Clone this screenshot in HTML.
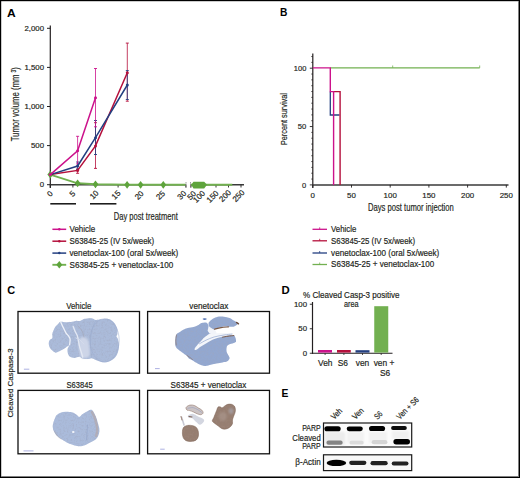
<!DOCTYPE html>
<html><head><meta charset="utf-8"><style>
html,body{margin:0;padding:0;background:#fff;overflow:hidden;}
svg{display:block;font-family:"Liberation Sans", sans-serif;}
</style></head><body>
<svg width="520" height="478" viewBox="0 0 520 478">
<rect width="520" height="478" fill="#fff"/>
<text x="7.1" y="16.7" font-size="11.2" text-anchor="start" fill="#000" font-weight="bold" textLength="8.7" lengthAdjust="spacingAndGlyphs">A</text>
<line x1="50.3" y1="25.4" x2="50.3" y2="188" stroke="#231f20" stroke-width="1.2"/>
<line x1="47" y1="184.70" x2="50.3" y2="184.70" stroke="#231f20" stroke-width="1"/>
<text x="44" y="187.45" font-size="7.8" text-anchor="end" fill="#231f20" stroke="#231f20" stroke-width="0.18">0</text>
<line x1="47" y1="145.60" x2="50.3" y2="145.60" stroke="#231f20" stroke-width="1"/>
<text x="44" y="148.35" font-size="7.8" text-anchor="end" fill="#231f20" stroke="#231f20" stroke-width="0.18">500</text>
<line x1="47" y1="106.50" x2="50.3" y2="106.50" stroke="#231f20" stroke-width="1"/>
<text x="44" y="109.25" font-size="7.8" text-anchor="end" fill="#231f20" stroke="#231f20" stroke-width="0.18">1,000</text>
<line x1="47" y1="67.40" x2="50.3" y2="67.40" stroke="#231f20" stroke-width="1"/>
<text x="44" y="70.15" font-size="7.8" text-anchor="end" fill="#231f20" stroke="#231f20" stroke-width="0.18">1,500</text>
<line x1="47" y1="28.30" x2="50.3" y2="28.30" stroke="#231f20" stroke-width="1"/>
<text x="44" y="31.05000000000001" font-size="7.8" text-anchor="end" fill="#231f20" stroke="#231f20" stroke-width="0.18">2,000</text>
<text x="0" y="0" font-size="10.4" text-anchor="middle" fill="#231f20" transform="translate(18.9,104.2) rotate(-90) scale(0.745,1)" stroke="#231f20" stroke-width="0.18">Tumor volume (mm <tspan dy="-3.4" font-size="6.6">3</tspan><tspan dy="3.4">)</tspan></text>
<line x1="50.3" y1="184.8" x2="185.5" y2="184.8" stroke="#3a3a3a" stroke-width="1.6"/>
<line x1="191" y1="184.8" x2="244" y2="184.8" stroke="#3a3a3a" stroke-width="1.6"/>
<line x1="50.30" y1="184.7" x2="50.30" y2="187.5" stroke="#231f20" stroke-width="0.9"/>
<line x1="72.90" y1="184.7" x2="72.90" y2="187.5" stroke="#231f20" stroke-width="0.9"/>
<line x1="95.50" y1="184.7" x2="95.50" y2="187.5" stroke="#231f20" stroke-width="0.9"/>
<line x1="118.10" y1="184.7" x2="118.10" y2="187.5" stroke="#231f20" stroke-width="0.9"/>
<line x1="140.70" y1="184.7" x2="140.70" y2="187.5" stroke="#231f20" stroke-width="0.9"/>
<line x1="163.30" y1="184.7" x2="163.30" y2="187.5" stroke="#231f20" stroke-width="0.9"/>
<line x1="185.90" y1="184.7" x2="185.90" y2="187.5" stroke="#231f20" stroke-width="0.9"/>
<line x1="191.00" y1="184.7" x2="191.00" y2="187.5" stroke="#231f20" stroke-width="0.9"/>
<line x1="203.50" y1="184.7" x2="203.50" y2="187.5" stroke="#231f20" stroke-width="0.9"/>
<line x1="216.00" y1="184.7" x2="216.00" y2="187.5" stroke="#231f20" stroke-width="0.9"/>
<line x1="228.50" y1="184.7" x2="228.50" y2="187.5" stroke="#231f20" stroke-width="0.9"/>
<line x1="241.00" y1="184.7" x2="241.00" y2="187.5" stroke="#231f20" stroke-width="0.9"/>
<text x="0" y="0" font-size="8" text-anchor="middle" fill="#231f20" transform="translate(51.75,195.70) rotate(-45)" stroke="#231f20" stroke-width="0.18">0</text>
<text x="0" y="0" font-size="8" text-anchor="middle" fill="#231f20" transform="translate(74.35,195.70) rotate(-45)" stroke="#231f20" stroke-width="0.18">5</text>
<text x="0" y="0" font-size="8" text-anchor="middle" fill="#231f20" transform="translate(96.05,196.65) rotate(-45)" stroke="#231f20" stroke-width="0.18">10</text>
<text x="0" y="0" font-size="8" text-anchor="middle" fill="#231f20" transform="translate(117.95,196.85) rotate(-45)" stroke="#231f20" stroke-width="0.18">15</text>
<text x="0" y="0" font-size="8" text-anchor="middle" fill="#231f20" transform="translate(141.05,197.15) rotate(-45)" stroke="#231f20" stroke-width="0.18">20</text>
<text x="0" y="0" font-size="8" text-anchor="middle" fill="#231f20" transform="translate(162.45,197.15) rotate(-45)" stroke="#231f20" stroke-width="0.18">25</text>
<text x="0" y="0" font-size="8" text-anchor="middle" fill="#231f20" transform="translate(183.75,197.05) rotate(-45)" stroke="#231f20" stroke-width="0.18">30</text>
<text x="0" y="0" font-size="8" text-anchor="middle" fill="#231f20" transform="translate(193.55,197.25) rotate(-45)" stroke="#231f20" stroke-width="0.18">50</text>
<text x="0" y="0" font-size="8" text-anchor="middle" fill="#231f20" transform="translate(201.05,198.45) rotate(-45)" stroke="#231f20" stroke-width="0.18">100</text>
<text x="0" y="0" font-size="8" text-anchor="middle" fill="#231f20" transform="translate(214.45,198.45) rotate(-45)" stroke="#231f20" stroke-width="0.18">150</text>
<text x="0" y="0" font-size="8" text-anchor="middle" fill="#231f20" transform="translate(226.95,197.75) rotate(-45)" stroke="#231f20" stroke-width="0.18">200</text>
<text x="0" y="0" font-size="8" text-anchor="middle" fill="#231f20" transform="translate(240.35,197.75) rotate(-45)" stroke="#231f20" stroke-width="0.18">250</text>
<line x1="186" y1="182.3" x2="186" y2="187.6" stroke="#555" stroke-width="0.8" stroke-dasharray="1.2 0.8"/>
<line x1="190.5" y1="182.3" x2="190.5" y2="187.6" stroke="#555" stroke-width="0.8" stroke-dasharray="1.2 0.8"/>
<line x1="50.3" y1="203.8" x2="76" y2="203.8" stroke="#111" stroke-width="1.5"/>
<line x1="90" y1="203.8" x2="116.4" y2="203.8" stroke="#111" stroke-width="1.5"/>
<text x="113.8" y="220" font-size="10.2" text-anchor="start" fill="#231f20" textLength="64" lengthAdjust="spacingAndGlyphs" stroke="#231f20" stroke-width="0.18">Day post treatment</text>
<polyline points="50.3,174.6 77.6,183.3 95.5,184.3 127.1,184.8 140.6,184.8 163.3,184.8 185.4,184.8" fill="none" stroke="#72b050" stroke-width="1.9"/>
<line x1="191" y1="184.8" x2="232.3" y2="184.8" stroke="#72b050" stroke-width="1.9"/>
<path d="M47.4,174.6 L50.3,170.7 L53.199999999999996,174.6 L50.3,178.5 Z" fill="#5ea43c"/>
<path d="M74.69999999999999,183.3 L77.6,179.4 L80.5,183.3 L77.6,187.20000000000002 Z" fill="#5ea43c"/>
<path d="M92.6,184.3 L95.5,180.4 L98.4,184.3 L95.5,188.20000000000002 Z" fill="#5ea43c"/>
<path d="M124.19999999999999,184.8 L127.1,180.9 L130.0,184.8 L127.1,188.70000000000002 Z" fill="#5ea43c"/>
<path d="M137.7,184.8 L140.6,180.9 L143.5,184.8 L140.6,188.70000000000002 Z" fill="#5ea43c"/>
<path d="M160.4,184.8 L163.3,180.9 L166.20000000000002,184.8 L163.3,188.70000000000002 Z" fill="#5ea43c"/>
<path d="M191.2,184.8 L193.5,181.8 L204.2,181.8 L207,184.8 L204.2,188.4 L193.5,188.4 Z" fill="#5ea43c"/>
<line x1="77.6" y1="168.9" x2="77.6" y2="173.3" stroke="#b5103c" stroke-width="0.8"/>
<line x1="76.1" y1="168.9" x2="79.1" y2="168.9" stroke="#b5103c" stroke-width="0.9"/>
<line x1="76.1" y1="173.3" x2="79.1" y2="173.3" stroke="#b5103c" stroke-width="0.9"/>
<line x1="95.5" y1="122.7" x2="95.5" y2="168.4" stroke="#b5103c" stroke-width="0.8"/>
<line x1="94.0" y1="122.7" x2="97.0" y2="122.7" stroke="#b5103c" stroke-width="0.9"/>
<line x1="94.0" y1="168.4" x2="97.0" y2="168.4" stroke="#b5103c" stroke-width="0.9"/>
<line x1="127.3" y1="43.1" x2="127.3" y2="101.2" stroke="#b5103c" stroke-width="0.8"/>
<line x1="125.8" y1="43.1" x2="128.8" y2="43.1" stroke="#b5103c" stroke-width="0.9"/>
<line x1="125.8" y1="101.2" x2="128.8" y2="101.2" stroke="#b5103c" stroke-width="0.9"/>
<line x1="77.6" y1="162" x2="77.6" y2="169.5" stroke="#233f80" stroke-width="0.8"/>
<line x1="76.1" y1="162" x2="79.1" y2="162" stroke="#233f80" stroke-width="0.9"/>
<line x1="76.1" y1="169.5" x2="79.1" y2="169.5" stroke="#233f80" stroke-width="0.9"/>
<line x1="95.5" y1="120.5" x2="95.5" y2="154.5" stroke="#233f80" stroke-width="0.8"/>
<line x1="94.0" y1="120.5" x2="97.0" y2="120.5" stroke="#233f80" stroke-width="0.9"/>
<line x1="94.0" y1="154.5" x2="97.0" y2="154.5" stroke="#233f80" stroke-width="0.9"/>
<line x1="127.3" y1="70.6" x2="127.3" y2="99.5" stroke="#233f80" stroke-width="0.8"/>
<line x1="125.8" y1="70.6" x2="128.8" y2="70.6" stroke="#233f80" stroke-width="0.9"/>
<line x1="125.8" y1="99.5" x2="128.8" y2="99.5" stroke="#233f80" stroke-width="0.9"/>
<line x1="77.6" y1="136.3" x2="77.6" y2="163.9" stroke="#cc128b" stroke-width="0.8"/>
<line x1="76.1" y1="136.3" x2="79.1" y2="136.3" stroke="#cc128b" stroke-width="0.9"/>
<line x1="76.1" y1="163.9" x2="79.1" y2="163.9" stroke="#cc128b" stroke-width="0.9"/>
<line x1="95.5" y1="68.5" x2="95.5" y2="126.8" stroke="#cc128b" stroke-width="0.8"/>
<line x1="94.0" y1="68.5" x2="97.0" y2="68.5" stroke="#cc128b" stroke-width="0.9"/>
<line x1="94.0" y1="126.8" x2="97.0" y2="126.8" stroke="#cc128b" stroke-width="0.9"/>
<polyline points="50.3,174.6 77.6,170.4 95.5,145.9 127.3,72.7" fill="none" stroke="#b5103c" stroke-width="1.5"/>
<polyline points="50.3,174.6 77.6,166 95.5,137.7 127.3,85" fill="none" stroke="#233f80" stroke-width="1.5"/>
<polyline points="50.3,174.6 77.6,150.7 95.5,97.7" fill="none" stroke="#cc128b" stroke-width="1.5"/>
<circle cx="77.6" cy="170.4" r="1.5" fill="#b5103c"/>
<circle cx="95.5" cy="145.9" r="1.5" fill="#b5103c"/>
<circle cx="127.3" cy="72.7" r="1.5" fill="#b5103c"/>
<circle cx="77.6" cy="166" r="1.5" fill="#233f80"/>
<circle cx="95.5" cy="137.7" r="1.5" fill="#233f80"/>
<circle cx="127.3" cy="85" r="1.5" fill="#233f80"/>
<circle cx="77.6" cy="150.7" r="1.5" fill="#cc128b"/>
<circle cx="95.5" cy="97.7" r="1.5" fill="#cc128b"/>
<circle cx="50.3" cy="174.6" r="1.5" fill="#cc128b"/>
<line x1="52.4" y1="229.3" x2="66.2" y2="229.3" stroke="#cc128b" stroke-width="1.5"/>
<circle cx="59.3" cy="229.3" r="1.25" fill="#cc128b"/>
<text x="69.5" y="232.10000000000002" font-size="8.6" text-anchor="start" fill="#231f20" textLength="25.8" lengthAdjust="spacingAndGlyphs" stroke="#231f20" stroke-width="0.18">Vehicle</text>
<line x1="52.4" y1="241.2" x2="66.2" y2="241.2" stroke="#b5103c" stroke-width="1.5"/>
<circle cx="59.3" cy="241.2" r="1.25" fill="#b5103c"/>
<text x="69.5" y="244.0" font-size="8.6" text-anchor="start" fill="#231f20" textLength="84.6" lengthAdjust="spacingAndGlyphs" stroke="#231f20" stroke-width="0.18">S63845-25 (IV 5x/week)</text>
<line x1="52.4" y1="253.1" x2="66.2" y2="253.1" stroke="#233f80" stroke-width="1.5"/>
<circle cx="59.3" cy="253.1" r="1.25" fill="#233f80"/>
<text x="69.5" y="255.9" font-size="8.6" text-anchor="start" fill="#231f20" textLength="108.8" lengthAdjust="spacingAndGlyphs" stroke="#231f20" stroke-width="0.18">venetoclax-100 (oral 5x/week)</text>
<line x1="52.4" y1="264.8" x2="66.2" y2="264.8" stroke="#72b050" stroke-width="1.9"/>
<path d="M56.3,264.8 L59.3,261.0 L62.3,264.8 L59.3,268.6 Z" fill="#5ea43c"/>
<text x="69.5" y="267.6" font-size="8.6" text-anchor="start" fill="#231f20" textLength="103.8" lengthAdjust="spacingAndGlyphs" stroke="#231f20" stroke-width="0.18">S63845-25 + venetoclax-100</text>
<text x="280" y="16.4" font-size="10.9" text-anchor="start" fill="#000" font-weight="bold" textLength="7.4" lengthAdjust="spacingAndGlyphs">B</text>
<line x1="312.8" y1="53.5" x2="312.8" y2="188" stroke="#231f20" stroke-width="1.2"/>
<line x1="309.8" y1="184.90" x2="312.8" y2="184.90" stroke="#231f20" stroke-width="0.9"/>
<line x1="311.3" y1="179.06" x2="312.8" y2="179.06" stroke="#231f20" stroke-width="0.8"/>
<line x1="311.3" y1="173.23" x2="312.8" y2="173.23" stroke="#231f20" stroke-width="0.8"/>
<line x1="311.3" y1="167.40" x2="312.8" y2="167.40" stroke="#231f20" stroke-width="0.8"/>
<line x1="311.3" y1="161.56" x2="312.8" y2="161.56" stroke="#231f20" stroke-width="0.8"/>
<line x1="311.3" y1="155.72" x2="312.8" y2="155.72" stroke="#231f20" stroke-width="0.8"/>
<line x1="311.3" y1="149.89" x2="312.8" y2="149.89" stroke="#231f20" stroke-width="0.8"/>
<line x1="311.3" y1="144.06" x2="312.8" y2="144.06" stroke="#231f20" stroke-width="0.8"/>
<line x1="311.3" y1="138.22" x2="312.8" y2="138.22" stroke="#231f20" stroke-width="0.8"/>
<line x1="311.3" y1="132.38" x2="312.8" y2="132.38" stroke="#231f20" stroke-width="0.8"/>
<line x1="309.8" y1="126.55" x2="312.8" y2="126.55" stroke="#231f20" stroke-width="0.9"/>
<line x1="311.3" y1="120.72" x2="312.8" y2="120.72" stroke="#231f20" stroke-width="0.8"/>
<line x1="311.3" y1="114.88" x2="312.8" y2="114.88" stroke="#231f20" stroke-width="0.8"/>
<line x1="311.3" y1="109.05" x2="312.8" y2="109.05" stroke="#231f20" stroke-width="0.8"/>
<line x1="311.3" y1="103.21" x2="312.8" y2="103.21" stroke="#231f20" stroke-width="0.8"/>
<line x1="311.3" y1="97.38" x2="312.8" y2="97.38" stroke="#231f20" stroke-width="0.8"/>
<line x1="311.3" y1="91.54" x2="312.8" y2="91.54" stroke="#231f20" stroke-width="0.8"/>
<line x1="311.3" y1="85.71" x2="312.8" y2="85.71" stroke="#231f20" stroke-width="0.8"/>
<line x1="311.3" y1="79.87" x2="312.8" y2="79.87" stroke="#231f20" stroke-width="0.8"/>
<line x1="311.3" y1="74.04" x2="312.8" y2="74.04" stroke="#231f20" stroke-width="0.8"/>
<line x1="309.8" y1="68.20" x2="312.8" y2="68.20" stroke="#231f20" stroke-width="0.9"/>
<line x1="311.3" y1="62.37" x2="312.8" y2="62.37" stroke="#231f20" stroke-width="0.8"/>
<line x1="311.3" y1="56.53" x2="312.8" y2="56.53" stroke="#231f20" stroke-width="0.8"/>
<text x="306.3" y="187.6" font-size="7.8" text-anchor="end" fill="#231f20" textLength="4.2" lengthAdjust="spacingAndGlyphs" stroke="#231f20" stroke-width="0.18">0</text>
<text x="306.3" y="129.25" font-size="7.8" text-anchor="end" fill="#231f20" textLength="8.5" lengthAdjust="spacingAndGlyphs" stroke="#231f20" stroke-width="0.18">50</text>
<text x="306.3" y="70.9" font-size="7.8" text-anchor="end" fill="#231f20" textLength="12.5" lengthAdjust="spacingAndGlyphs" stroke="#231f20" stroke-width="0.18">100</text>
<line x1="312.8" y1="184.9" x2="508.5" y2="184.9" stroke="#3a3a3a" stroke-width="1.5"/>
<line x1="312.80" y1="184.9" x2="312.80" y2="187.6" stroke="#231f20" stroke-width="0.9"/>
<text x="312.8" y="197.7" font-size="7.9" text-anchor="middle" fill="#231f20" stroke="#231f20" stroke-width="0.18">0</text>
<line x1="351.50" y1="184.9" x2="351.50" y2="187.6" stroke="#231f20" stroke-width="0.9"/>
<text x="351.5" y="197.7" font-size="7.9" text-anchor="middle" fill="#231f20" stroke="#231f20" stroke-width="0.18">50</text>
<line x1="390.20" y1="184.9" x2="390.20" y2="187.6" stroke="#231f20" stroke-width="0.9"/>
<text x="390.20000000000005" y="197.7" font-size="7.9" text-anchor="middle" fill="#231f20" stroke="#231f20" stroke-width="0.18">100</text>
<line x1="428.90" y1="184.9" x2="428.90" y2="187.6" stroke="#231f20" stroke-width="0.9"/>
<text x="428.90000000000003" y="197.7" font-size="7.9" text-anchor="middle" fill="#231f20" stroke="#231f20" stroke-width="0.18">150</text>
<line x1="467.60" y1="184.9" x2="467.60" y2="187.6" stroke="#231f20" stroke-width="0.9"/>
<text x="467.6" y="197.7" font-size="7.9" text-anchor="middle" fill="#231f20" stroke="#231f20" stroke-width="0.18">200</text>
<line x1="506.30" y1="184.9" x2="506.30" y2="187.6" stroke="#231f20" stroke-width="0.9"/>
<text x="506.3" y="197.7" font-size="7.9" text-anchor="middle" fill="#231f20" stroke="#231f20" stroke-width="0.18">250</text>
<text x="368" y="211.3" font-size="10.3" text-anchor="start" fill="#231f20" textLength="85.8" lengthAdjust="spacingAndGlyphs" stroke="#231f20" stroke-width="0.18">Days post tumor injection</text>
<text x="0" y="0" font-size="9.2" text-anchor="middle" fill="#231f20" textLength="52" lengthAdjust="spacingAndGlyphs" transform="translate(287,119.1) rotate(-90)" stroke="#231f20" stroke-width="0.18">Percent survival</text>
<polyline points="330.3,67.9 479.7,67.9" fill="none" stroke="#72b050" stroke-width="1.4"/>
<line x1="392.7" y1="65.5" x2="392.7" y2="67.9" stroke="#72b050" stroke-width="0.8"/>
<line x1="479.7" y1="65.5" x2="479.7" y2="67.9" stroke="#72b050" stroke-width="0.8"/>
<polyline points="330.3,91.6 330.3,115 339.5,115" fill="none" stroke="#233f80" stroke-width="1.3"/>
<polyline points="333.6,91.6 340.1,91.6 340.1,184.9" fill="none" stroke="#b5103c" stroke-width="1.4"/>
<polyline points="312.8,67.9 330.3,67.9 330.3,91.6 333.6,91.6 333.6,184.9" fill="none" stroke="#cc128b" stroke-width="1.4"/>
<line x1="312.5" y1="229.3" x2="327" y2="229.3" stroke="#cc128b" stroke-width="1.3"/>
<line x1="319.7" y1="227.3" x2="319.7" y2="229.3" stroke="#cc128b" stroke-width="0.8"/>
<text x="331.1" y="232.10000000000002" font-size="8.6" text-anchor="start" fill="#231f20" textLength="25.2" lengthAdjust="spacingAndGlyphs" stroke="#231f20" stroke-width="0.18">Vehicle</text>
<line x1="312.5" y1="240.8" x2="327" y2="240.8" stroke="#b5103c" stroke-width="1.3"/>
<line x1="319.7" y1="238.8" x2="319.7" y2="240.8" stroke="#b5103c" stroke-width="0.8"/>
<text x="331.1" y="243.60000000000002" font-size="8.6" text-anchor="start" fill="#231f20" textLength="84.0" lengthAdjust="spacingAndGlyphs" stroke="#231f20" stroke-width="0.18">S63845-25 (IV 5x/week)</text>
<line x1="312.5" y1="253.0" x2="327" y2="253.0" stroke="#233f80" stroke-width="1.3"/>
<line x1="319.7" y1="251.0" x2="319.7" y2="253.0" stroke="#233f80" stroke-width="0.8"/>
<text x="331.1" y="255.8" font-size="8.6" text-anchor="start" fill="#231f20" textLength="108.2" lengthAdjust="spacingAndGlyphs" stroke="#231f20" stroke-width="0.18">venetoclax-100 (oral 5x/week)</text>
<line x1="312.5" y1="264.5" x2="327" y2="264.5" stroke="#72b050" stroke-width="1.3"/>
<line x1="319.7" y1="262.5" x2="319.7" y2="264.5" stroke="#72b050" stroke-width="0.8"/>
<text x="331.1" y="267.3" font-size="8.6" text-anchor="start" fill="#231f20" textLength="103.2" lengthAdjust="spacingAndGlyphs" stroke="#231f20" stroke-width="0.18">S63845-25 + venetoclax-100</text>
<text x="7.3" y="294.2" font-size="10.9" text-anchor="start" fill="#000" font-weight="bold" textLength="7.9" lengthAdjust="spacingAndGlyphs">C</text>
<rect x="18" y="311.5" width="121.5" height="61.69999999999999" fill="none" stroke="#111" stroke-width="1.3"/>
<rect x="147.6" y="311.5" width="121.9" height="61.69999999999999" fill="none" stroke="#111" stroke-width="1.3"/>
<rect x="18" y="390.4" width="121.5" height="63.400000000000034" fill="none" stroke="#111" stroke-width="1.3"/>
<rect x="147.6" y="390.4" width="121.9" height="63.400000000000034" fill="none" stroke="#111" stroke-width="1.3"/>
<text x="78.8" y="308.5" font-size="8.3" text-anchor="middle" fill="#231f20" textLength="25.2" lengthAdjust="spacingAndGlyphs" stroke="#231f20" stroke-width="0.18">Vehicle</text>
<text x="208.8" y="308.6" font-size="8.3" text-anchor="middle" fill="#231f20" textLength="39" lengthAdjust="spacingAndGlyphs" stroke="#231f20" stroke-width="0.18">venetoclax</text>
<text x="79.6" y="387.7" font-size="8.3" text-anchor="middle" fill="#231f20" textLength="26" lengthAdjust="spacingAndGlyphs" stroke="#231f20" stroke-width="0.18">S63845</text>
<text x="208.5" y="387.7" font-size="8.3" text-anchor="middle" fill="#231f20" textLength="75.8" lengthAdjust="spacingAndGlyphs" stroke="#231f20" stroke-width="0.18">S63845 + venetoclax</text>
<text x="0" y="0" font-size="8" text-anchor="middle" fill="#231f20" textLength="69.2" lengthAdjust="spacingAndGlyphs" transform="translate(12.7,383) rotate(-90)" stroke="#231f20" stroke-width="0.18">Cleaved Caspase-3</text>
<defs><filter id="tex" x="0" y="0" width="100%" height="100%"><feTurbulence type="fractalNoise" baseFrequency="0.55" numOctaves="2" seed="7" result="n"/><feColorMatrix in="n" type="matrix" values="0 0 0 0 0.35  0 0 0 0 0.38  0 0 0 0 0.5  0 0 0 -1.1 0.62" result="a"/><feComposite in="a" in2="SourceGraphic" operator="in" result="m"/><feMerge><feMergeNode in="SourceGraphic"/><feMergeNode in="m"/></feMerge></filter><filter id="texb" x="0" y="0" width="100%" height="100%"><feTurbulence type="fractalNoise" baseFrequency="0.5" numOctaves="2" seed="11" result="n"/><feColorMatrix in="n" type="matrix" values="0 0 0 0 0.35  0 0 0 0 0.25  0 0 0 0 0.2  0 0 0 -1.3 0.75" result="a"/><feComposite in="a" in2="SourceGraphic" operator="in" result="m"/><feMerge><feMergeNode in="SourceGraphic"/><feMergeNode in="m"/></feMerge></filter></defs>
<path d="M58.60,323.40 C59.47,322.62 59.48,321.98 60.70,321.80 C61.92,321.62 63.98,322.30 65.90,322.30 C67.82,322.30 70.45,322.05 72.20,321.80 C73.95,321.55 75.10,320.93 76.40,320.80 C77.70,320.67 78.65,321.33 80.00,321.00 C81.35,320.67 82.62,319.27 84.50,318.80 C86.38,318.33 89.42,318.02 91.30,318.20 C93.18,318.38 94.28,319.72 95.80,319.90 C97.32,320.08 98.52,319.48 100.40,319.30 C102.28,319.12 105.22,318.60 107.10,318.80 C108.98,319.00 110.37,319.65 111.70,320.50 C113.03,321.35 114.17,322.48 115.10,323.90 C116.03,325.32 116.93,327.22 117.30,329.00 C117.67,330.78 117.45,333.38 117.30,334.60 C117.15,335.82 116.30,335.55 116.40,336.30 C116.50,337.05 117.47,337.68 117.90,339.10 C118.33,340.52 118.92,342.92 119.00,344.80 C119.08,346.68 118.87,348.52 118.40,350.40 C117.93,352.28 117.13,354.58 116.20,356.10 C115.27,357.62 114.12,358.55 112.80,359.50 C111.48,360.45 110.00,361.33 108.30,361.80 C106.60,362.27 104.48,362.50 102.60,362.30 C100.72,362.10 98.70,361.25 97.00,360.60 C95.30,359.95 93.75,358.68 92.40,358.40 C91.05,358.12 90.58,358.90 88.90,358.90 C87.22,358.90 83.87,358.75 82.30,358.40 C80.73,358.05 80.83,356.88 79.50,356.80 C78.17,356.72 75.87,357.90 74.30,357.90 C72.73,357.90 71.15,357.50 70.10,356.80 C69.05,356.10 68.43,354.92 68.00,353.70 C67.57,352.48 67.32,350.85 67.50,349.50 C67.68,348.15 69.37,345.95 69.10,345.60 C68.83,345.25 66.95,346.75 65.90,347.40 C64.85,348.05 64.02,348.80 62.80,349.50 C61.58,350.20 59.82,351.07 58.60,351.60 C57.38,352.13 56.55,352.87 55.50,352.70 C54.45,352.53 53.27,351.48 52.30,350.60 C51.33,349.72 50.30,348.63 49.70,347.40 C49.10,346.17 48.70,344.42 48.70,343.20 C48.70,341.98 49.10,340.97 49.70,340.10 C50.30,339.23 51.87,339.05 52.30,338.00 C52.73,336.95 52.12,335.02 52.30,333.80 C52.48,332.58 52.87,331.92 53.40,330.70 C53.93,329.48 54.63,327.72 55.50,326.50 C56.37,325.28 57.73,324.18 58.60,323.40 Z" fill="#abbbda" filter="url(#tex)"/>
<defs><filter id="sb" x="-30%" y="-30%" width="160%" height="160%"><feGaussianBlur stdDeviation="0.8"/></filter></defs>
<g filter="url(#sb)">
<path d="M79.00,341.00 C79.42,337.83 81.50,337.17 83.00,337.00 C84.50,336.83 86.92,338.17 88.00,340.00 C89.08,341.83 89.25,345.33 89.50,348.00 C89.75,350.67 90.25,354.33 89.50,356.00 C88.75,357.67 86.50,358.00 85.00,358.00 C83.50,358.00 81.50,358.83 80.50,356.00 C79.50,353.17 78.58,344.17 79.00,341.00 Z" fill="#cdd5e8"/>
</g>
<ellipse cx="104.6" cy="340.4" rx="14.6" ry="21.6" fill="none" stroke="#9aabcf" stroke-width="0.6" opacity="0.8"/>
<path d="M60.70,322.00 C61.13,322.93 62.43,325.80 63.30,327.60 C64.17,329.40 65.03,331.42 65.90,332.80 C66.77,334.18 67.80,334.85 68.50,335.90 C69.20,336.95 69.92,337.62 70.10,339.10 C70.28,340.58 69.68,343.85 69.60,344.80" fill="none" stroke="#eef1f8" stroke-width="1.3" stroke-linecap="round"/>
<path d="M73.20,326.50 C73.55,327.37 74.60,330.13 75.30,331.70 C76.00,333.27 76.87,334.32 77.40,335.90 C77.93,337.48 78.15,339.45 78.50,341.20 C78.85,342.95 79.07,344.67 79.50,346.40 C79.93,348.13 80.57,349.83 81.10,351.60 C81.63,353.37 82.43,356.10 82.70,357.00" fill="none" stroke="#e3e8f3" stroke-width="1.4" stroke-linecap="round"/>
<path d="M76.00,338.00 C76.67,338.33 78.67,339.00 80.00,340.00 C81.33,341.00 83.33,343.33 84.00,344.00" fill="none" stroke="#d5dcec" stroke-width="1.0" stroke-linecap="round"/>
<path d="M78.00,326.00 C78.67,326.83 81.00,329.17 82.00,331.00 C83.00,332.83 83.67,336.00 84.00,337.00" fill="none" stroke="#9a8e8e" stroke-width="0.5" stroke-linecap="round" opacity="0.6"/>
<path d="M95.80,320.50 C95.17,322.08 92.88,326.25 92.00,330.00 C91.12,333.75 90.58,338.50 90.50,343.00 C90.42,347.50 91.33,354.67 91.50,357.00" fill="none" stroke="#97a8ca" stroke-width="0.6" stroke-linecap="round" opacity="0.7"/>
<path d="M176.50,334.30 C177.25,333.17 178.77,332.85 179.90,332.10 C181.03,331.35 181.98,330.47 183.30,329.80 C184.62,329.13 186.10,328.57 187.80,328.10 C189.50,327.63 191.80,327.47 193.50,327.00 C195.20,326.53 196.68,325.97 198.00,325.30 C199.32,324.63 200.08,323.47 201.40,323.00 C202.72,322.53 204.77,322.22 205.90,322.50 C207.03,322.78 207.63,323.67 208.20,324.70 C208.77,325.73 208.67,327.48 209.30,328.70 C209.93,329.92 210.88,331.12 212.00,332.00 C213.12,332.88 214.33,333.47 216.00,334.00 C217.67,334.53 219.13,334.98 222.00,335.20 C224.87,335.42 231.05,335.07 233.20,335.30 C235.35,335.53 234.42,335.60 234.90,336.60 C235.38,337.60 236.30,340.22 236.10,341.30 C235.90,342.38 234.97,342.52 233.70,343.10 C232.43,343.68 229.67,344.12 228.50,344.80 C227.33,345.48 227.00,346.02 226.70,347.20 C226.40,348.38 226.40,350.53 226.70,351.90 C227.00,353.27 228.02,354.33 228.50,355.40 C228.98,356.47 229.80,357.32 229.60,358.30 C229.40,359.28 228.47,360.62 227.30,361.30 C226.13,361.98 224.37,362.02 222.60,362.40 C220.83,362.78 218.65,363.20 216.70,363.60 C214.75,364.00 212.85,364.40 210.90,364.80 C208.95,365.20 207.15,366.18 205.00,366.00 C202.85,365.82 200.12,364.65 198.00,363.70 C195.88,362.75 193.80,361.15 192.30,360.30 C190.80,359.45 189.93,359.35 189.00,358.60 C188.07,357.85 187.83,356.83 186.70,355.80 C185.57,354.77 183.72,353.53 182.20,352.40 C180.68,351.27 178.73,350.13 177.60,349.00 C176.47,347.87 175.77,347.28 175.40,345.60 C175.03,343.92 175.22,340.78 175.40,338.90 C175.58,337.02 175.75,335.43 176.50,334.30 Z" fill="#93a8d0" filter="url(#tex)"/>
<path d="M209.70,321.40 C210.48,320.53 211.83,319.28 213.20,318.50 C214.57,317.72 216.13,317.00 217.90,316.70 C219.67,316.40 221.85,316.50 223.80,316.70 C225.75,316.90 227.85,317.22 229.60,317.90 C231.35,318.58 232.83,319.93 234.30,320.80 C235.77,321.67 238.00,322.42 238.40,323.10 C238.80,323.78 237.57,324.30 236.70,324.90 C235.83,325.50 234.57,326.40 233.20,326.70 C231.83,327.00 230.27,326.70 228.50,326.70 C226.73,326.70 224.57,326.42 222.60,326.70 C220.63,326.98 218.27,327.92 216.70,328.40 C215.13,328.88 214.37,329.80 213.20,329.60 C212.03,329.40 210.48,328.18 209.70,327.20 C208.92,326.22 208.50,324.67 208.50,323.70 C208.50,322.73 208.92,322.27 209.70,321.40 Z" fill="#93a8d0" filter="url(#tex)"/>
<path d="M194.50,349.00 C194.67,348.17 196.33,346.22 197.50,344.80 C198.67,343.38 200.42,341.67 201.50,340.50 C202.58,339.33 203.08,338.63 204.00,337.80 C204.92,336.97 206.08,336.17 207.00,335.50 C207.92,334.83 208.50,334.15 209.50,333.80 C210.50,333.45 210.92,333.53 213.00,333.40 C215.08,333.27 219.00,333.07 222.00,333.00 C225.00,332.93 229.20,332.80 231.00,333.00 C232.80,333.20 234.30,333.57 232.80,334.20 C231.30,334.83 225.30,335.92 222.00,336.80 C218.70,337.68 215.67,338.38 213.00,339.50 C210.33,340.62 208.08,342.28 206.00,343.50 C203.92,344.72 202.08,345.75 200.50,346.80 C198.92,347.85 197.50,349.43 196.50,349.80 C195.50,350.17 194.33,349.83 194.50,349.00 Z" fill="#f4f6fa"/>
<polygon points="208.6,326.3 212,328.6 215.6,330.8 216.7,333.2 213.2,334.6 209.5,333.6 207.6,330.8" fill="#f2f4f9"/>
<path d="M199.50,343.80 C200.58,343.20 203.58,341.33 206.00,340.20 C208.42,339.07 211.00,337.87 214.00,337.00 C217.00,336.13 221.00,335.48 224.00,335.00 C227.00,334.52 230.67,334.25 232.00,334.10" fill="none" stroke="#aabad9" stroke-width="0.9" stroke-linecap="round"/>
<path d="M214.40,329.20 C215.50,328.93 218.65,327.98 221.00,327.60 C223.35,327.22 227.25,327.02 228.50,326.90" fill="none" stroke="#7d5b47" stroke-width="1.1" stroke-linecap="round"/>
<path d="M222.60,337.20 C223.50,337.03 226.15,336.47 228.00,336.20 C229.85,335.93 232.75,335.70 233.70,335.60" fill="none" stroke="#7d5b47" stroke-width="1.0" stroke-linecap="round"/>
<path d="M176.50,335.00 C176.38,335.83 175.85,338.33 175.80,340.00 C175.75,341.67 176.13,344.17 176.20,345.00" fill="none" stroke="#8a6a58" stroke-width="0.8" stroke-linecap="round" opacity="0.7"/>
<path d="M187.00,355.50 C187.50,355.83 189.08,356.83 190.00,357.50 C190.92,358.17 192.08,359.17 192.50,359.50" fill="none" stroke="#8a6a58" stroke-width="0.8" stroke-linecap="round" opacity="0.7"/>
<path d="M236.50,322.50 C236.83,322.72 238.17,323.58 238.50,323.80" fill="none" stroke="#6a4a38" stroke-width="1.4" stroke-linecap="round"/>
<ellipse cx="204.7" cy="319.1" rx="2.1" ry="0.8" fill="#4f6fb0"/>
<path d="M56.30,415.40 C57.17,414.62 58.93,413.42 60.50,412.80 C62.07,412.18 63.80,411.78 65.70,411.70 C67.60,411.62 70.18,411.87 71.90,412.30 C73.62,412.73 74.78,413.53 76.00,414.30 C77.22,415.07 78.15,416.90 79.20,416.90 C80.25,416.90 81.10,415.17 82.30,414.30 C83.50,413.43 85.02,412.47 86.40,411.70 C87.78,410.93 89.55,409.87 90.60,409.70 C91.65,409.53 91.83,409.58 92.70,410.70 C93.57,411.82 94.95,414.40 95.80,416.40 C96.65,418.40 97.20,420.62 97.80,422.70 C98.40,424.78 99.22,427.00 99.40,428.90 C99.58,430.80 99.33,432.55 98.90,434.10 C98.47,435.65 97.83,437.00 96.80,438.20 C95.77,439.40 94.25,440.35 92.70,441.30 C91.15,442.25 89.23,443.12 87.50,443.90 C85.77,444.68 84.03,445.65 82.30,446.00 C80.57,446.35 78.83,446.25 77.10,446.00 C75.37,445.75 73.63,445.10 71.90,444.50 C70.17,443.90 68.43,443.27 66.70,442.40 C64.97,441.53 63.07,440.33 61.50,439.30 C59.93,438.27 58.52,437.42 57.30,436.20 C56.08,434.98 54.97,433.57 54.20,432.00 C53.43,430.43 52.78,428.53 52.70,426.80 C52.62,425.07 53.27,423.15 53.70,421.60 C54.13,420.05 54.87,418.53 55.30,417.50 C55.73,416.47 55.43,416.18 56.30,415.40 Z" fill="#aabbdb" filter="url(#tex)"/>
<path d="M92.00,412.00 C92.43,412.92 93.87,415.50 94.60,417.50 C95.33,419.50 95.97,421.92 96.40,424.00 C96.83,426.08 97.23,428.00 97.20,430.00 C97.17,432.00 96.37,435.00 96.20,436.00" fill="none" stroke="#b8a29a" stroke-width="2.4" stroke-linecap="round" opacity="0.5"/>
<path d="M54.50,431.00 C55.00,431.83 56.42,434.67 57.50,436.00 C58.58,437.33 60.42,438.50 61.00,439.00" fill="none" stroke="#a89a98" stroke-width="0.8" stroke-linecap="round" opacity="0.5"/>
<ellipse cx="73.3" cy="432" rx="1.3" ry="0.9" fill="#f4f6fa"/>
<path d="M87.50,425.00 C87.42,426.33 87.17,430.50 87.00,433.00 C86.83,435.50 86.58,438.83 86.50,440.00" fill="none" stroke="#8b9cc2" stroke-width="0.5" stroke-linecap="round"/>
<path d="M218.00,407.10 C218.60,406.45 219.40,406.68 220.10,406.80 C220.80,406.92 221.37,407.98 222.20,407.80 C223.03,407.62 224.15,406.28 225.10,405.70 C226.05,405.12 226.83,404.53 227.90,404.30 C228.97,404.07 230.43,404.02 231.50,404.30 C232.57,404.58 233.65,405.18 234.30,406.00 C234.95,406.82 235.28,408.07 235.40,409.20 C235.52,410.33 235.30,411.60 235.00,412.80 C234.70,414.00 234.02,415.22 233.60,416.40 C233.18,417.58 232.68,418.72 232.50,419.90 C232.32,421.08 232.78,422.43 232.50,423.50 C232.22,424.57 231.57,425.48 230.80,426.30 C230.03,427.12 228.97,427.92 227.90,428.40 C226.83,428.88 225.47,429.20 224.40,429.20 C223.33,429.20 222.45,428.88 221.50,428.40 C220.55,427.92 219.65,427.00 218.70,426.30 C217.75,425.60 216.75,424.92 215.80,424.20 C214.85,423.48 213.58,422.60 213.00,422.00 C212.42,421.40 212.18,421.30 212.30,420.60 C212.42,419.90 213.23,418.87 213.70,417.80 C214.17,416.73 214.63,415.38 215.10,414.20 C215.57,413.02 216.02,411.88 216.50,410.70 C216.98,409.52 217.40,407.75 218.00,407.10 Z" fill="#967e71" filter="url(#texb)"/>
<path d="M218.00,407.10 C218.60,406.45 219.40,406.68 220.10,406.80 C220.80,406.92 221.37,407.98 222.20,407.80 C223.03,407.62 224.15,406.28 225.10,405.70 C226.05,405.12 226.83,404.53 227.90,404.30 C228.97,404.07 230.43,404.02 231.50,404.30 C232.57,404.58 233.65,405.18 234.30,406.00 C234.95,406.82 235.28,408.07 235.40,409.20 C235.52,410.33 235.30,411.60 235.00,412.80 C234.70,414.00 234.02,415.22 233.60,416.40 C233.18,417.58 232.68,418.72 232.50,419.90 C232.32,421.08 232.78,422.43 232.50,423.50 C232.22,424.57 231.57,425.48 230.80,426.30 C230.03,427.12 228.97,427.92 227.90,428.40 C226.83,428.88 225.47,429.20 224.40,429.20 C223.33,429.20 222.45,428.88 221.50,428.40 C220.55,427.92 219.65,427.00 218.70,426.30 C217.75,425.60 216.75,424.92 215.80,424.20 C214.85,423.48 213.58,422.60 213.00,422.00 C212.42,421.40 212.18,421.30 212.30,420.60 C212.42,419.90 213.23,418.87 213.70,417.80 C214.17,416.73 214.63,415.38 215.10,414.20 C215.57,413.02 216.02,411.88 216.50,410.70 C216.98,409.52 217.40,407.75 218.00,407.10 Z" fill="none" stroke="#7a5e50" stroke-width="0.8" opacity="0.6"/>
<g filter="url(#sb)" opacity="0.7">
<path d="M229.00,409.00 C229.42,408.25 231.25,408.17 232.00,408.50 C232.75,408.83 233.50,410.08 233.50,411.00 C233.50,411.92 232.67,413.67 232.00,414.00 C231.33,414.33 230.00,413.83 229.50,413.00 C229.00,412.17 228.58,409.75 229.00,409.00 Z" fill="#aaa8b2"/>
<path d="M219.00,414.00 C219.75,412.83 222.67,411.67 224.00,412.00 C225.33,412.33 227.00,414.50 227.00,416.00 C227.00,417.50 225.25,420.50 224.00,421.00 C222.75,421.50 220.33,420.17 219.50,419.00 C218.67,417.83 218.25,415.17 219.00,414.00 Z" fill="#a9958c"/>
</g>
<path d="M183.40,427.60 C184.25,426.33 185.90,425.72 187.50,425.40 C189.10,425.08 191.48,425.32 193.00,425.70 C194.52,426.08 195.72,426.73 196.60,427.70 C197.48,428.67 198.02,430.03 198.30,431.50 C198.58,432.97 198.68,435.05 198.30,436.50 C197.92,437.95 197.22,439.38 196.00,440.20 C194.78,441.02 192.67,441.32 191.00,441.40 C189.33,441.48 187.30,441.33 186.00,440.70 C184.70,440.07 183.80,438.88 183.20,437.60 C182.60,436.32 182.37,434.67 182.40,433.00 C182.43,431.33 182.55,428.87 183.40,427.60 Z" fill="#967e71" filter="url(#texb)"/>
<path d="M183.40,427.60 C184.25,426.33 185.90,425.72 187.50,425.40 C189.10,425.08 191.48,425.32 193.00,425.70 C194.52,426.08 195.72,426.73 196.60,427.70 C197.48,428.67 198.02,430.03 198.30,431.50 C198.58,432.97 198.68,435.05 198.30,436.50 C197.92,437.95 197.22,439.38 196.00,440.20 C194.78,441.02 192.67,441.32 191.00,441.40 C189.33,441.48 187.30,441.33 186.00,440.70 C184.70,440.07 183.80,438.88 183.20,437.60 C182.60,436.32 182.37,434.67 182.40,433.00 C182.43,431.33 182.55,428.87 183.40,427.60 Z" fill="none" stroke="#7a5e50" stroke-width="0.8" opacity="0.6"/>
<path d="M186.10,407.40 C186.57,406.57 188.42,405.42 189.80,405.10 C191.18,404.78 193.02,405.05 194.40,405.50 C195.78,405.95 196.87,407.03 198.10,407.80 C199.33,408.57 200.97,409.25 201.80,410.10 C202.63,410.95 203.27,412.13 203.10,412.90 C202.93,413.67 201.78,414.55 200.80,414.70 C199.82,414.85 198.42,414.25 197.20,413.80 C195.98,413.35 194.73,412.53 193.50,412.00 C192.27,411.47 190.88,410.92 189.80,410.60 C188.72,410.28 187.62,410.63 187.00,410.10 C186.38,409.57 185.63,408.23 186.10,407.40 Z" fill="#cbc3c4" stroke="#8f7366" stroke-width="0.7" stroke-opacity="0.8"/>
<path d="M188.00,408.30 C188.83,408.18 191.33,407.35 193.00,407.60 C194.67,407.85 196.58,409.02 198.00,409.80 C199.42,410.58 200.92,411.88 201.50,412.30" fill="none" stroke="#a4a8bf" stroke-width="0.8" stroke-linecap="round"/>
<path d="M188.00,415.60 C188.62,414.92 190.92,413.63 192.60,413.80 C194.28,413.97 196.27,415.68 198.10,416.60 C199.93,417.52 202.68,418.38 203.60,419.30 C204.52,420.22 204.22,421.18 203.60,422.10 C202.98,423.02 201.13,424.80 199.90,424.80 C198.67,424.80 197.42,423.17 196.20,422.10 C194.98,421.03 193.82,419.10 192.60,418.40 C191.38,417.70 189.67,418.37 188.90,417.90 C188.13,417.43 187.38,416.28 188.00,415.60 Z" fill="#d3d6e0"/>
<path d="M189.00,416.50 C189.50,416.58 191.50,416.92 192.00,417.00" fill="none" stroke="#7d5f50" stroke-width="1.1" stroke-linecap="round"/>
<path d="M181.50,417.00 C181.72,417.67 182.38,419.67 182.80,421.00 C183.22,422.33 183.80,424.33 184.00,425.00" fill="none" stroke="#c9cad4" stroke-width="1.6" stroke-linecap="round"/>
<path d="M181.00,416.50 C181.17,417.08 181.83,419.42 182.00,420.00" fill="none" stroke="#9a7a68" stroke-width="0.9" stroke-linecap="round"/>
<line x1="23.9" y1="369.2" x2="29.3" y2="369.2" stroke="#8a8fd6" stroke-width="0.7"/>
<line x1="155" y1="368.6" x2="159.7" y2="368.6" stroke="#8a8fd6" stroke-width="0.7"/>
<line x1="23.5" y1="450.9" x2="33.5" y2="450.9" stroke="#8a8fd6" stroke-width="0.7"/>
<line x1="160.2" y1="449.2" x2="164.7" y2="449.2" stroke="#8a8fd6" stroke-width="0.7"/>
<text x="281.4" y="294.2" font-size="10.9" text-anchor="start" fill="#000" font-weight="bold" textLength="8.2" lengthAdjust="spacingAndGlyphs">D</text>
<text x="303" y="297.7" font-size="8.6" text-anchor="start" fill="#231f20" textLength="96.5" lengthAdjust="spacingAndGlyphs" stroke="#231f20" stroke-width="0.18">% Cleaved Casp-3 positive</text>
<text x="351.2" y="307" font-size="8.6" text-anchor="middle" fill="#231f20" textLength="14.6" lengthAdjust="spacingAndGlyphs" stroke="#231f20" stroke-width="0.18">area</text>
<line x1="312.5" y1="302" x2="312.5" y2="353.9" stroke="#231f20" stroke-width="1.2"/>
<line x1="312.5" y1="353.25" x2="392.5" y2="353.25" stroke="#231f20" stroke-width="1.2"/>
<line x1="309.8" y1="353.25" x2="312.5" y2="353.25" stroke="#231f20" stroke-width="0.9"/>
<text x="307" y="355.95" font-size="7.8" text-anchor="end" fill="#231f20" stroke="#231f20" stroke-width="0.18">0</text>
<line x1="309.8" y1="328.75" x2="312.5" y2="328.75" stroke="#231f20" stroke-width="0.9"/>
<text x="307" y="331.45" font-size="7.8" text-anchor="end" fill="#231f20" stroke="#231f20" stroke-width="0.18">50</text>
<line x1="309.8" y1="304.25" x2="312.5" y2="304.25" stroke="#231f20" stroke-width="0.9"/>
<text x="307" y="306.95" font-size="7.8" text-anchor="end" fill="#231f20" stroke="#231f20" stroke-width="0.18">100</text>
<rect x="318" y="350" width="14" height="2.6000000000000227" fill="#cc128b"/>
<rect x="337" y="350" width="13.75" height="2.6000000000000227" fill="#b5103c"/>
<rect x="355.5" y="350.2" width="14.0" height="2.400000000000034" fill="#233f80"/>
<rect x="374.25" y="306.2" width="14.0" height="46.400000000000034" fill="#72b050"/>
<line x1="325.1" y1="353.25" x2="325.1" y2="355" stroke="#231f20" stroke-width="0.8"/>
<line x1="343.9" y1="353.25" x2="343.9" y2="355" stroke="#231f20" stroke-width="0.8"/>
<line x1="362.5" y1="353.25" x2="362.5" y2="355" stroke="#231f20" stroke-width="0.8"/>
<line x1="381.2" y1="353.25" x2="381.2" y2="355" stroke="#231f20" stroke-width="0.8"/>
<text x="325.3" y="366.3" font-size="8.4" text-anchor="middle" fill="#231f20" stroke="#231f20" stroke-width="0.18">Veh</text>
<text x="342.8" y="366.3" font-size="8.4" text-anchor="middle" fill="#231f20" stroke="#231f20" stroke-width="0.18">S6</text>
<text x="362.5" y="366.3" font-size="8.4" text-anchor="middle" fill="#231f20" stroke="#231f20" stroke-width="0.18">ven</text>
<text x="384" y="366.3" font-size="8.4" text-anchor="middle" fill="#231f20" stroke="#231f20" stroke-width="0.18">ven +</text>
<text x="385" y="375.8" font-size="8.4" text-anchor="middle" fill="#231f20" stroke="#231f20" stroke-width="0.18">S6</text>
<text x="281.6" y="397.3" font-size="10.6" text-anchor="start" fill="#000" font-weight="bold" textLength="6.9" lengthAdjust="spacingAndGlyphs">E</text>
<defs><filter id="bl" x="-20%" y="-50%" width="140%" height="200%"><feGaussianBlur stdDeviation="0.7"/></filter><filter id="bl2" x="-20%" y="-50%" width="140%" height="200%"><feGaussianBlur stdDeviation="1.2"/></filter></defs>
<rect x="323.5" y="423" width="88.2" height="24" fill="#fbfbfb" stroke="#1a1a1a" stroke-width="1.2"/>
<rect x="323.5" y="454.8" width="88.2" height="15.8" fill="#f8f8f8" stroke="#1a1a1a" stroke-width="1.2"/>
<g filter="url(#bl2)" opacity="0.55">
<rect x="325" y="432" width="20" height="13" fill="#e0e0e0"/>
<rect x="347" y="432" width="17" height="11" fill="#ebebeb"/>
<rect x="369" y="432" width="18" height="11" fill="#ebebeb"/>
<rect x="392" y="431" width="17" height="8" fill="#e8e8e8"/>
</g>
<text x="0" y="0" font-size="8.3" text-anchor="start" fill="#231f20" textLength="12" lengthAdjust="spacingAndGlyphs" transform="translate(334.3,420) rotate(-45)" stroke="#231f20" stroke-width="0.18">Veh</text>
<text x="0" y="0" font-size="8.3" text-anchor="start" fill="#231f20" textLength="12.5" lengthAdjust="spacingAndGlyphs" transform="translate(355.4,420) rotate(-45)" stroke="#231f20" stroke-width="0.18">Ven</text>
<text x="0" y="0" font-size="8.3" text-anchor="start" fill="#231f20" textLength="8" lengthAdjust="spacingAndGlyphs" transform="translate(377.5,420) rotate(-45)" stroke="#231f20" stroke-width="0.18">S6</text>
<text x="0" y="0" font-size="8.3" text-anchor="start" fill="#231f20" textLength="28" lengthAdjust="spacingAndGlyphs" transform="translate(399.7,420) rotate(-45)" stroke="#231f20" stroke-width="0.18">Ven + S6</text>
<text x="320.7" y="430.8" font-size="8.5" text-anchor="end" fill="#231f20" textLength="18.5" lengthAdjust="spacingAndGlyphs" stroke="#231f20" stroke-width="0.18">PARP</text>
<text x="320.7" y="440.5" font-size="8.5" text-anchor="end" fill="#231f20" textLength="28.4" lengthAdjust="spacingAndGlyphs" stroke="#231f20" stroke-width="0.18">Cleaved</text>
<text x="320.7" y="449.2" font-size="8.5" text-anchor="end" fill="#231f20" textLength="18.5" lengthAdjust="spacingAndGlyphs" stroke="#231f20" stroke-width="0.18">PARP</text>
<text x="320.7" y="465.4" font-size="8.5" text-anchor="end" fill="#231f20" textLength="25.4" lengthAdjust="spacingAndGlyphs" stroke="#231f20" stroke-width="0.18">β-Actin</text>
<g>
<rect x="324.4" y="426.2" width="16.30000000000001" height="5.100000000000023" rx="2.5500000000000114" ry="2.5500000000000114" fill="#000" filter="url(#bl)"/>
<rect x="346.7" y="426.4" width="16.100000000000023" height="4.900000000000034" rx="2.450000000000017" ry="2.450000000000017" fill="#000" filter="url(#bl)"/>
<rect x="369" y="425.9" width="16.100000000000023" height="5.100000000000023" rx="2.5500000000000114" ry="2.5500000000000114" fill="#000" filter="url(#bl)"/>
<rect x="391.1" y="426" width="15.699999999999989" height="4.100000000000023" rx="2.0500000000000114" ry="2.0500000000000114" fill="#080808" filter="url(#bl)"/>
<rect x="326.4" y="440.6" width="16.30000000000001" height="4.199999999999989" rx="2.0999999999999943" ry="2.0999999999999943" fill="#858585" filter="url(#bl)"/>
<rect x="349.5" y="440.8" width="14.199999999999989" height="3.6999999999999886" rx="1.8499999999999943" ry="1.8499999999999943" fill="#dcdcdc" filter="url(#bl)"/>
<rect x="371.7" y="440" width="15.699999999999989" height="4.300000000000011" rx="2.1500000000000057" ry="2.1500000000000057" fill="#d5d5d5" filter="url(#bl)"/>
<rect x="393.4" y="438.9" width="16.600000000000023" height="5.5" rx="2.75" ry="2.75" fill="#000" filter="url(#bl)"/>
<ellipse cx="336.4" cy="462.9" rx="9.8" ry="3.2" fill="#000" filter="url(#bl)"/>
<rect x="349.2" y="460.8" width="17.19999999999999" height="4.099999999999966" rx="2.049999999999983" ry="2.049999999999983" fill="#202020" filter="url(#bl)"/>
<rect x="370.5" y="461.1" width="17.19999999999999" height="4.199999999999989" rx="2.0999999999999943" ry="2.0999999999999943" fill="#202020" filter="url(#bl)"/>
<rect x="391.7" y="461.5" width="16.80000000000001" height="3.8999999999999773" rx="1.9499999999999886" ry="1.9499999999999886" fill="#222" filter="url(#bl)"/>
</g>
<rect x="0" y="0" width="520" height="1" fill="#000"/><rect x="0" y="0" width="1" height="478" fill="#000"/><rect x="519" y="0" width="1" height="478" fill="#000"/><rect x="0" y="477" width="520" height="1" fill="#000"/>
<rect x="1" y="1" width="517" height="1" fill="#000" opacity="0.2"/><rect x="1" y="1" width="1" height="475" fill="#000" opacity="0.2"/><rect x="518" y="1" width="1" height="476" fill="#000" opacity="0.5"/><rect x="1" y="476" width="517" height="1" fill="#000" opacity="0.5"/>
</svg>
</body></html>
